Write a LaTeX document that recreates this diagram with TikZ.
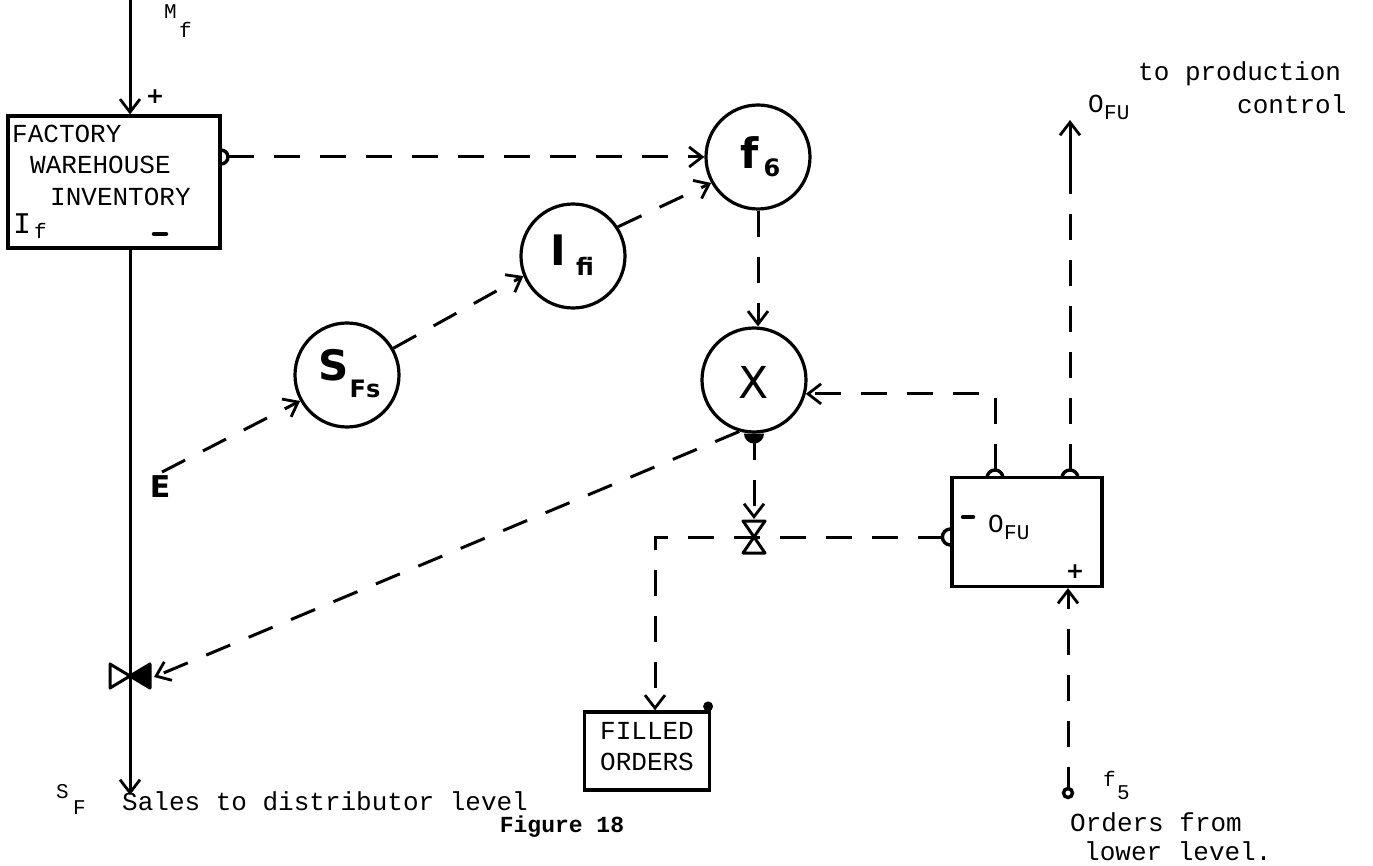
\documentclass[tikz,border=0pt]{standalone}
\usepackage{fontspec}
\newfontfamily\tw{Liberation Mono}
\newfontfamily\hand{DejaVu Sans}
\usetikzlibrary{arrows.meta}
\tikzset{
 ln/.style={line width=3pt},
 dl/.style={line width=3pt, dash pattern=on 26pt off 20pt},
 ar/.style={-{Straight Barb[length=13pt,width=20pt,line width=2.8pt]}},
 circ/.style={circle,draw,line width=3.2pt,minimum size=104pt,inner sep=0pt},
 box/.style={draw,line width=3.2pt,inner sep=0pt},
 tt/.style={font=\tw\fontsize{26}{28}\selectfont, inner sep=0pt},
 ts/.style={font=\tw\fontsize{21}{22}\selectfont, inner sep=0pt},
 hd/.style={font=\hand\bfseries\fontsize{42}{42}\selectfont, inner sep=0pt},
 hs/.style={font=\hand\bfseries\fontsize{24}{24}\selectfont, inner sep=0pt},
 valve/.style={line width=3pt, line join=round},
 hook/.style={line width=3.4pt},
}
\begin{document}
\begin{tikzpicture}[x=1pt,y=-1pt]
\useasboundingbox (0,0) rectangle (1373,866);
% boxes
\node[box,minimum width=212pt,minimum height=132pt] (fw) at (114,182) {};
\node[box,minimum width=125pt,minimum height=78pt] (fo) at (647,751) {};
\node[box,minimum width=150pt,minimum height=109pt] (ofu) at (1027,532) {};
% circles
\node[circ] (f6) at (758,157) {};
\node[circ] (Ifi) at (573,256) {};
\node[circ] (Sfs) at (347,375) {};
\node[circ] (X) at (754,380) {};
% circle labels
\node[hd] (f6t) at (750,153) {f};
\node[hs] (f6s) at (772,168) {6};
\node[hd] (Ifit) at (558,250) {I};
\node[hs] (Ifis) at (585,266) {fi};
\node[hd] (Sfst) at (334,365) {S};
\node[hs] (Sfss) at (365,389) {Fs};
\node[font=\hand\fontsize{44}{44}\selectfont,inner sep=0pt] (Xt) at (754,382) {X};
% coordinates
\coordinate (top) at (130,0);
\coordinate (sfend) at (130,795);
\coordinate (v1) at (130,676);
\coordinate (v1e) at (154,677);
\coordinate (eA) at (162,472);
\coordinate (v2) at (754,537);
\coordinate (v2n) at (754,519);
\coordinate (corner) at (655,537);
\coordinate (oa) at (995,478);
\coordinate (oaT) at (995,470);
\coordinate (obB) at (1070,478);
\coordinate (obT) at (1070,470);
\coordinate (ofuH) at (944,537);
\coordinate (fwH) at (221,157);
\coordinate (fwHE) at (228,157);
\coordinate (ob) at (1070,120);
\coordinate (obs) at (1070,168);
\coordinate (f5pt) at (1068,793);
% main flow line
\draw[ln,ar] (top) -- (top |- fw.north);
\draw[ln,ar] (top |- fw.south) -- (sfend);
% valve 1 (horizontal bow-tie)
\draw[valve] (v1) -- ++(-20,-12) -- ++(0,24) -- cycle;
\draw[valve,fill=black] (v1) -- ++(20,-12) -- ++(0,24) -- cycle;
% valve 2 (vertical bow-tie)
\draw[valve] (v2) -- ++(-11,-16) -- ++(22,0) -- cycle;
\draw[valve] (v2) -- ++(-11,16) -- ++(22,0) -- cycle;
% dashed information lines
\draw[dl,ar] (fwHE) -- (fwHE -| f6.west);
\draw[dl,ar] (Ifi.33) -- (f6.209);
\draw[dl,ar] (Sfs.30) -- (Ifi.202);
\draw[dl,ar] (eA) -- (Sfs.209);
\draw[dl,ar] (f6.south) -- (f6.south |- X.north);
\draw[dl,ar] (X.south) -- (v2n);
\draw[dl,ar] (X.254) -- (v1e);
\draw[dl,ar] (ofuH) -- (corner) -- (corner |- fo.north);
\draw[dl,ar] (oaT) -- (oa |- X.345) -- (X.345);
\draw[dl] (obT) -- (obs);
\draw[ln,ar] (obs) -- (ob);
\draw[dl,ar] (f5pt) -- (f5pt |- ofu.south);
% markers
\draw[hook] (fwH) ++(0,-7) arc (-90:90:7);
\draw[hook] (oa) ++(-8,0) arc (180:360:8);
\draw[hook] (obB) ++(-8,0) arc (180:360:8);
\draw[hook] (ofu.west |- v2) ++(0,-8) arc (270:90:8);
\fill (X.south) ++(-10,0) arc (180:0:10) -- cycle;
\draw[hook,fill=white] (f5pt) circle (4.5);
\fill (fo.north east) ++(-3,-4) circle (5);
\node[font=\hand\bfseries\fontsize{22}{22}\selectfont,inner sep=0pt] (plus1) at (155,97) {+};
\node[font=\hand\bfseries\fontsize{22}{22}\selectfont,inner sep=0pt] (plus2) at (1075,572) {+};
\draw[line width=4.5pt,line cap=round] (154,234) -- (166,234);
\draw[line width=4.5pt,line cap=round] (963,517) -- (973,517);
\node[font=\hand\bfseries\fontsize{30}{30}\selectfont,inner sep=0pt] (Emark) at (160,487) {E};
% texts
\node[ts,anchor=west] (Mf) at (164,12) {M};
\node[ts,anchor=west] (Mfs) at (179,30) {f};
\node[tt,anchor=west] (t1) at (12,134) {FACTORY};
\node[tt,anchor=west] (t2) at (30,165) {WAREHOUSE};
\node[tt,anchor=west] (t3) at (50,197) {INVENTORY};
\node[font=\tw\fontsize{30}{30}\selectfont,inner sep=0pt,anchor=west] (If) at (13,224) {I};
\node[ts,anchor=west] (Ifs) at (34,231) {f};
\node[tt,anchor=west] (ofuT) at (988,524) {O};
\node[ts,anchor=west] (ofuTs) at (1004,533) {FU};
\node[tt,anchor=west] (ofuL) at (1088,104) {O};
\node[ts,anchor=west] (ofuLs) at (1104,113) {FU};
\node[tt,anchor=west] (tp1) at (1138,74) {to production};
\node[tt,anchor=west] (tp2) at (1237,104) {control};
\node[tt] (fo1) at (fo.center |- 0,731) {FILLED};
\node[tt] (fo2) at (fo.center |- 0,762) {ORDERS};
\node[ts,anchor=west] (SF) at (56,792) {S};
\node[ts,anchor=west] (SFs) at (73,808) {F};
\node[tt,anchor=west] (sales) at (122,801) {Sales to distributor level};
\node[font=\tw\bfseries\fontsize{23}{26}\selectfont,inner sep=0pt] (fig) at (562,827) {Figure 18};
\node[ts,anchor=west] (f5) at (1103,779) {f};
\node[ts,anchor=west] (f5s) at (1117,793) {5};
\node[tt,anchor=west] (or1) at (1070,822) {Orders from};
\node[tt,anchor=west] (or2) at (1084,851) {lower level.};
\end{tikzpicture}
\end{document}
